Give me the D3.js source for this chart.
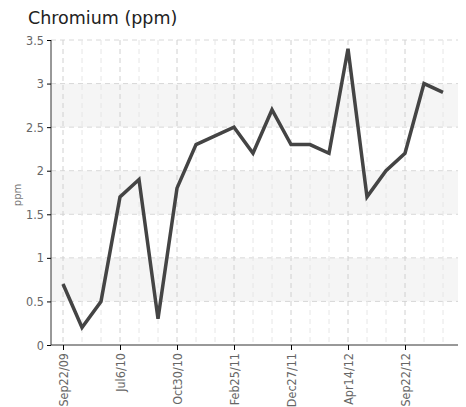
<!DOCTYPE html>
<html>
<head>
<meta charset="utf-8">
<script src="https://cdn.jsdelivr.net/npm/d3@7"></script>
<style>
  body { margin: 0; background: #fff; }
  svg { display: block; }
  .tick text { font-family: "Liberation Sans Narrow", "DejaVu Sans Condensed", sans-serif; font-size: 12.5px; fill: #666; }
</style>
</head>
<body>
<svg id="chart" width="466" height="407"></svg>
<script>
const dates = ['Sep22/09','d1','d2','Jul6/10','d4','d5','Oct30/10','d7','d8','Feb25/11','d10','d11',
  'Dec27/11','d13','d14','Apr14/12','d16','d17','Sep22/12','d19','d20'];
const labelled = ['Sep22/09','Jul6/10','Oct30/10','Feb25/11','Dec27/11','Apr14/12','Sep22/12'];
const chromium = [0.7,0.2,0.5,1.7,1.9,0.3,1.8,2.3,2.4,2.5,2.2,2.7,2.3,2.3,2.2,3.4,1.7,2.0,2.2,3.0,2.9];
const yTicks = [0,0.5,1,1.5,2,2.5,3,3.5];
const bands = [[0.5,1],[1.5,2],[2.5,3]];

const svg = d3.select('#chart');
const pl = 51, pr = 458, pt = 40, pb = 345;

const x = d3.scalePoint().domain(dates).range([63, 443]);
const y = d3.scaleLinear().domain([0, 3.5]).range([pb, pt]);

// shaded bands
svg.append('g').selectAll('rect').data(bands).enter().append('rect')
  .attr('x', pl).attr('width', pr - pl)
  .attr('y', d => y(d[1])).attr('height', d => y(d[0]) - y(d[1]))
  .attr('fill', '#f5f5f5');

// grid
const grid = svg.append('g');
grid.selectAll('line.h').data(yTicks.slice(1)).enter().append('line')
  .attr('x1', pl).attr('x2', pr).attr('y1', d => y(d)).attr('y2', d => y(d))
  .attr('stroke', '#d8d8d8').attr('stroke-dasharray', '5,4');
grid.selectAll('line.v').data(dates).enter().append('line')
  .attr('x1', d => x(d)).attr('x2', d => x(d)).attr('y1', pt).attr('y2', pb)
  .attr('stroke', d => labelled.includes(d) ? '#d0d0d0' : '#e6e6e6')
  .attr('stroke-dasharray', '5,4');

// axes
const yAxis = svg.append('g').attr('transform', `translate(${pl},0)`)
  .call(d3.axisLeft(y).tickValues(yTicks).tickFormat(d => String(d)).tickSize(4).tickPadding(3));
yAxis.select('.domain').attr('stroke', '#333').attr('d', `M0,${pt}V${pb}`);

const xAxis = svg.append('g').attr('transform', `translate(0,${pb})`)
  .call(d3.axisBottom(x).tickValues(labelled).tickSize(5).tickPadding(6));
xAxis.select('.domain').attr('stroke', '#333').attr('d', `M${pl},0H${pr}`);
xAxis.selectAll('.tick text')
  .attr('transform', 'rotate(-90)').attr('text-anchor', 'end')
  .attr('x', -8).attr('y', 0).attr('dy', '0.35em');

// line
svg.append('path').datum(chromium)
  .attr('fill', 'none').attr('stroke', '#444').attr('stroke-width', 3.5)
  .attr('stroke-linejoin', 'miter')
  .attr('d', d3.line().x((d, i) => x(dates[i])).y(d => y(d)));

// title and y label
svg.append('text').attr('x', 28).attr('y', 24).text('Chromium (ppm)')
  .attr('font-family', 'DejaVu Sans, sans-serif').attr('font-size', 17.5).attr('fill', '#222');
svg.append('text').attr('transform', 'translate(21,195) rotate(-90)')
  .attr('text-anchor', 'middle').text('ppm')
  .attr('font-family', 'DejaVu Sans, sans-serif').attr('font-size', 10).attr('fill', '#777');
</script>
</body>
</html>
